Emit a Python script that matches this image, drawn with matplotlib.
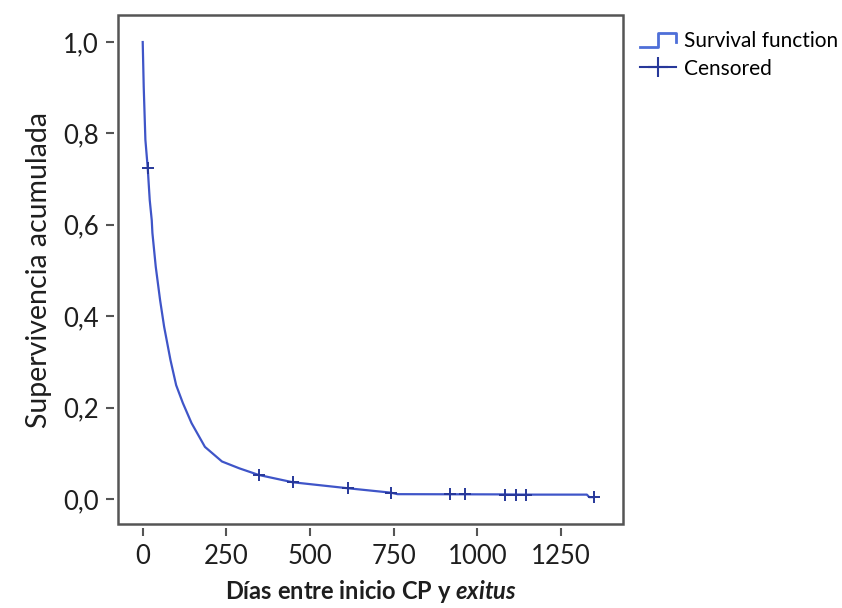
import matplotlib
matplotlib.use("Agg")
import matplotlib.pyplot as plt
from matplotlib.lines import Line2D
from matplotlib.patches import Rectangle
from matplotlib.legend_handler import HandlerBase

plt.rcParams['font.family'] = ['Lato', 'DejaVu Sans']
plt.rcParams['mathtext.fontset'] = 'custom'
plt.rcParams['mathtext.it'] = 'Lato:italic:bold'

# --- Curva de supervivencia (dias, supervivencia acumulada) ---
dias = [0, 3, 8, 15, 21, 27, 29, 39, 52, 64, 83, 100, 120, 146, 186, 237, 289,
        347, 449, 614, 742, 762, 1083, 1146, 1328, 1335, 1348]
superv = [1.0, 0.902, 0.786, 0.724, 0.654, 0.61, 0.582, 0.508, 0.435, 0.377, 0.304,
          0.249, 0.210, 0.166, 0.114, 0.082, 0.067, 0.0525, 0.0365, 0.0234, 0.0138,
          0.0105, 0.0100, 0.0095, 0.0095, 0.004, 0.004]

# --- Casos censurados ---
cens_dias = [15, 347, 449, 614, 742, 920, 963, 1083, 1116, 1146, 1348]
cens_superv = [0.724, 0.0525, 0.0365, 0.0234, 0.0138, 0.0103, 0.0103, 0.0095,
               0.0095, 0.0095, 0.004]

xticks = [0, 250, 500, 750, 1000, 1250]
yticks = [0.0, 0.2, 0.4, 0.6, 0.8, 1.0]
ytick_labels = ['0,0', '0,2', '0,4', '0,6', '0,8', '1,0']

col_linea = '#3f55c8'
col_cens = '#27389a'
col_marco = '#555555'
col_texto = '#1e1e1e'


class StepHandler(HandlerBase):
    # icono escalonado para la funcion de supervivencia
    def create_artists(self, legend, orig_handle, xdescent, ydescent,
                       width, height, fontsize, trans):
        x0, y0 = -xdescent, -ydescent
        xs = [x0, x0 + width * 0.5, x0 + width * 0.5, x0 + width, x0 + width]
        ys = [y0, y0, y0 + height, y0 + height, y0 + height * 0.35]
        ln = Line2D(xs, ys, color=orig_handle.get_color(), lw=2, transform=trans)
        return [ln]


fig = plt.figure(figsize=(8.42, 6.08), dpi=100)
ax = fig.add_axes([0.1401, 0.138, 0.5998, 0.8372])

ax.plot(dias, superv, color=col_linea, lw=1.6)
ax.plot(cens_dias, cens_superv, linestyle='none', marker='+', markersize=8,
        markeredgewidth=1.4, color=col_cens)

ax.set_xlim(-74, 1436)
ax.set_ylim(-0.055, 1.059)
ax.set_xticks(xticks)
ax.set_xticklabels([str(t) for t in xticks])
ax.set_yticks(yticks)
ax.set_yticklabels(ytick_labels)
ax.tick_params(direction='out', length=6, width=1.5, color=col_marco,
               labelsize=18.5, pad=5, labelcolor=col_texto)

# ticks separados del marco
for lado in ['left', 'bottom']:
    ax.spines[lado].set_position(('outward', 3))
for sp in ax.spines.values():
    sp.set_visible(False)
ax.add_patch(Rectangle((0, 0), 1, 1, transform=ax.transAxes, fill=False,
                       edgecolor=col_marco, lw=1.8, clip_on=False, zorder=5))

ax.set_ylabel('Supervivencia acumulada', fontsize=20.5, color=col_texto, labelpad=8)
ax.set_xlabel(r'Días entre inicio CP y $\it{exitus}$', fontsize=17,
              fontweight='bold', color=col_texto, labelpad=7)

h_surv = Line2D([], [], color='#4e6fd8')
h_cens = Line2D([], [], color=col_cens, lw=1.5, marker='+', markersize=15,
                markeredgewidth=1.5)
ax.legend([h_surv, h_cens], ['Survival function', 'Censored'],
          handler_map={h_surv: StepHandler()},
          loc='upper left', bbox_to_anchor=(0.7506, 0.962),
          bbox_transform=fig.transFigure, frameon=False, fontsize=15,
          handlelength=1.7, handletextpad=0.4, borderaxespad=0,
          labelspacing=0.35, numpoints=1)

fig.savefig('out.png', dpi=100)
